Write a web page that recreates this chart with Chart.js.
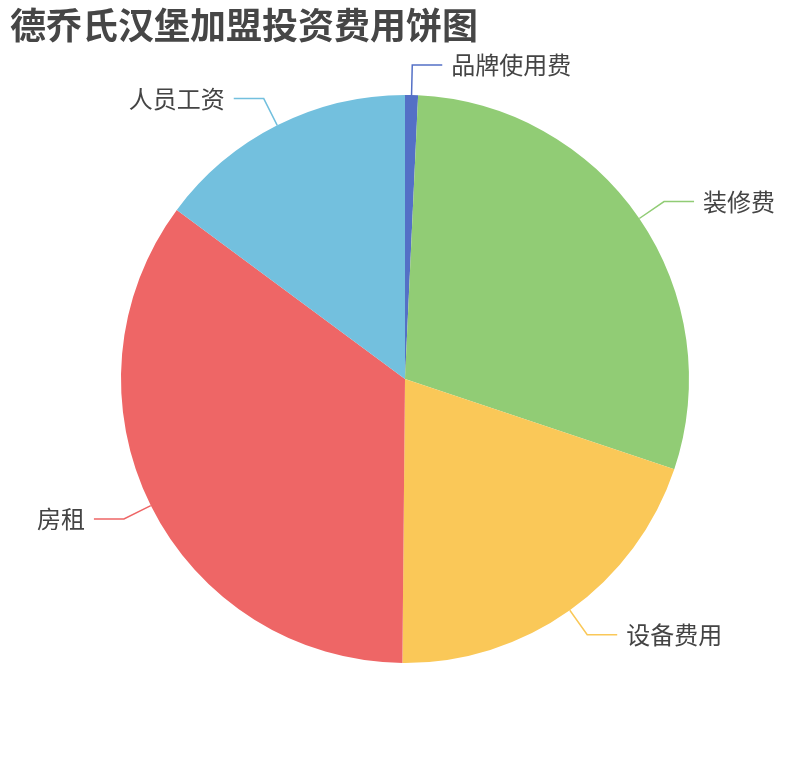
<!DOCTYPE html>
<html>
<head>
<meta charset="utf-8">
<script src="https://cdn.jsdelivr.net/npm/chart.js@4"></script>
<style>
  html, body { margin: 0; padding: 0; background: #fff; }
  #wrap { width: 810px; height: 760px; }
</style>
</head>
<body>
<div id="wrap"><canvas id="pie"></canvas></div>
<script>
var titleText = '德乔氏汉堡加盟投资费用饼图';
var labels = ['品牌使用费', '装修费', '设备费用', '房租', '人员工资'];
var values = [1, 40, 27.2, 47.6, 20.2];
var colors = ['#5470c6', '#91cc75', '#fac858', '#ee6666', '#73c0de'];

var FONT = '"Noto Sans CJK SC", "Noto Sans", sans-serif';

// title + outside labels with leader lines, like the original
var pieLabels = {
  id: 'pieLabels',
  afterDatasetsDraw: function(chart) {
    var c = chart.ctx;
    c.save();
    c.fillStyle = '#464646';
    c.font = 'bold 36px ' + FONT;
    c.textAlign = 'left';
    c.textBaseline = 'middle';
    c.fillText(titleText, 10, 25);

    var arcs = chart.getDatasetMeta(0).data;
    arcs.forEach(function(arc, i) {
      var p = arc.getProps(['x', 'y', 'startAngle', 'endAngle', 'outerRadius'], true);
      var mid = (p.startAngle + p.endAngle) / 2;
      var cos = Math.cos(mid), sin = Math.sin(mid);
      var x0 = p.x + cos * p.outerRadius, y0 = p.y + sin * p.outerRadius;
      var x1 = p.x + cos * (p.outerRadius + 30), y1 = p.y + sin * (p.outerRadius + 30);
      var dir = cos >= 0 ? 1 : -1;
      var x2 = x1 + dir * 30;
      c.strokeStyle = colors[i];
      c.lineWidth = 1.5;
      c.beginPath();
      c.moveTo(x0, y0);
      c.lineTo(x1, y1);
      c.lineTo(x2, y1);
      c.stroke();
      c.fillStyle = '#444';
      c.font = '24px ' + FONT;
      c.textAlign = dir > 0 ? 'left' : 'right';
      c.textBaseline = 'middle';
      c.fillText(labels[i], x2 + dir * 9, y1);
    });
    c.restore();
  }
};

new Chart(document.getElementById('pie'), {
  type: 'pie',
  data: {
    labels: labels,
    datasets: [{
      data: values,
      backgroundColor: colors,
      borderWidth: 0
    }]
  },
  options: {
    responsive: true,
    maintainAspectRatio: false,
    animation: false,
    layout: { padding: { top: 95, bottom: 97, left: 121, right: 121 } },
    plugins: {
      legend: { display: false },
      tooltip: { enabled: false }
    }
  },
  plugins: [pieLabels]
});
</script>
</body>
</html>
